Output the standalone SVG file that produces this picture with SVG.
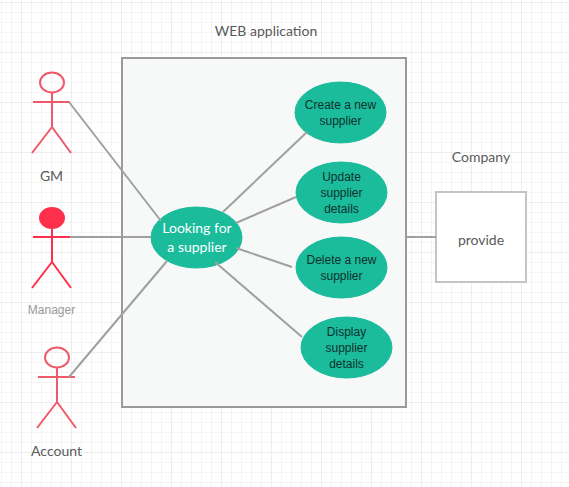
<svg xmlns="http://www.w3.org/2000/svg" width="569" height="487" viewBox="0 0 569 487">
<defs>
<pattern id="grid" width="10" height="10" patternUnits="userSpaceOnUse" x="1" y="2">
<path d="M.5 0V10M0 .5H10" fill="none" stroke="#f4f4f4" stroke-width="1"/>
</pattern>
<pattern id="gridmajor" width="50" height="50" patternUnits="userSpaceOnUse" x="21" y="2">
<path d="M.5 0V50M0 .5H50" fill="none" stroke="#eeeeee" stroke-width="1"/>
</pattern>
</defs>
<style>
.lato{font-family:Lato,"Open Sans",sans-serif}
.lab{font-size:14px;fill:#5a5a5a;text-anchor:middle}
.ucw{font-size:14px;fill:#ffffff;text-anchor:middle}
.uc{font-family:"Liberation Sans",Arial,sans-serif;font-size:12px;fill:#10302c;text-anchor:middle}
.e{fill:#1abc9c;stroke:#1abc9c}
.conn{stroke:#a0a0a0;stroke-width:2;fill:none}
.act{stroke-width:2;fill:none;stroke-linecap:butt}
</style>
<rect width="569" height="487" fill="#ffffff"/>
<rect width="569" height="487" fill="url(#grid)"/>
<rect width="569" height="487" fill="url(#gridmajor)"/>
<g id="system"><rect x="122" y="58" width="284" height="349" fill="#f7f9f9" stroke="#9a9a9a" stroke-width="2"/></g>
<text class="lato lab" x="266" y="36">WEB application</text>
<text class="lato lab" x="481" y="162">Company</text>
<g id="actor-gm">
<ellipse cx="52" cy="82.500" rx="12" ry="10" fill="none" stroke="#ee5a6a" stroke-width="2"/>
<path class="act" stroke="#ee5a6a" d="M52 93V127M33 102H70M52 127L32 153M52 127L71 153"/>
<text class="lato lab" x="51.500" y="181">GM</text>
</g>
<g id="actor-manager">
<ellipse cx="52" cy="218" rx="13" ry="11" fill="#ff304c"/>
<path class="act" stroke="#ff304c" d="M52 228V262M33 237H70M52 262L32 288M52 262L71 288"/>
<text x="51.500" y="314" font-family="'Liberation Sans',Arial,sans-serif" font-size="12" fill="#999999" text-anchor="middle">Manager</text>
</g>
<g id="actor-account">
<ellipse cx="57" cy="357.500" rx="12" ry="10" fill="none" stroke="#ee5a6a" stroke-width="2"/>
<path class="act" stroke="#ee5a6a" d="M57 368V402M38 377H75M57 402L37 428M57 402L76 428"/>
<text class="lato lab" x="56.500" y="456">Account</text>
</g>
<g id="uc-looking">
<ellipse class="e" cx="196.500" cy="237.500" rx="45.500" ry="30.500"/>
<text class="lato ucw" x="197" y="233">Looking for</text>
<text class="lato ucw" x="197" y="252">a supplier</text>
</g>
<g id="uc-create">
<ellipse class="e" cx="340.500" cy="112.500" rx="45.500" ry="30.500"/>
<text class="uc" x="340.500" y="109">Create a new</text>
<text class="uc" x="340.500" y="125">supplier</text>
</g>
<g id="uc-update">
<ellipse class="e" cx="341.500" cy="192.500" rx="45.500" ry="30.500"/>
<text class="uc" x="341.500" y="181">Update</text>
<text class="uc" x="341.500" y="197">supplier</text>
<text class="uc" x="341.500" y="213">details</text>
</g>
<g id="uc-delete">
<ellipse class="e" cx="341.500" cy="267.500" rx="45.500" ry="30.500"/>
<text class="uc" x="341.500" y="264">Delete a new</text>
<text class="uc" x="341.500" y="280">supplier</text>
</g>
<g id="uc-display">
<ellipse class="e" cx="346.500" cy="347.500" rx="45.500" ry="30.500"/>
<text class="uc" x="346.500" y="336">Display</text>
<text class="uc" x="346.500" y="352">supplier</text>
<text class="uc" x="346.500" y="368">details</text>
</g>
<g id="company">
<rect x="436" y="192" width="90" height="90" fill="#ffffff" stroke="#c4c4c4" stroke-width="2"/>
<text class="lato lab" x="481" y="245">provide</text>
</g>
<g id="connectors">
<path class="conn" d="M69 102L161 221"/>
<path class="conn" d="M70 237L151 237"/>
<path class="conn" d="M69 377L167 261"/>
<path class="conn" d="M223 212L307 132"/>
<path class="conn" d="M236 223L296 197"/>
<path class="conn" d="M236 248L292 267"/>
<path class="conn" d="M215 262L302 337"/>
<path class="conn" d="M406 237L436 237"/>
</g>
</svg>
